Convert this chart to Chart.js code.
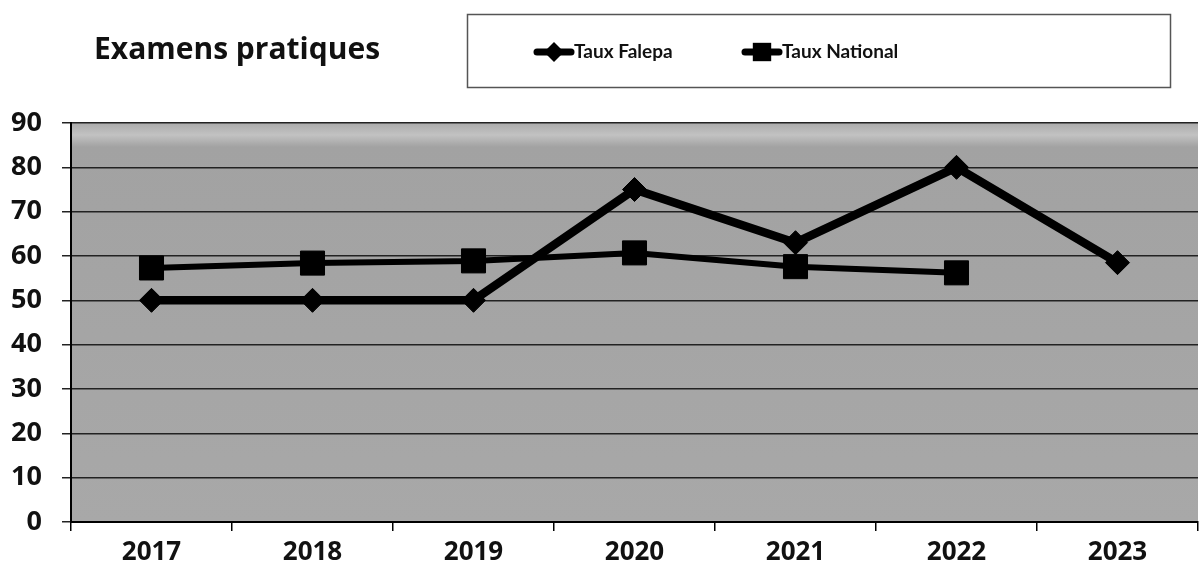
<!DOCTYPE html>
<html>
<head>
<meta charset="utf-8">
<script src="https://cdn.jsdelivr.net/npm/chart.js@4.4.1/dist/chart.umd.min.js"></script>
<style>
  html, body { margin: 0; padding: 0; background: #fff; overflow: hidden; }
  #wrap { width: 1199px; height: 574px; overflow: hidden; position: relative; }
  canvas { display: block; }
</style>
</head>
<body>
<div id="wrap"><canvas id="chart" width="1216" height="574"></canvas></div>
<script>
// Examens pratiques — taux de réussite
const years = ["2017", "2018", "2019", "2020", "2021", "2022", "2023"];
const tauxFalepa = [50, 50, 50, 75, 63, 80, 58.5];
const tauxNational = [57.3, 58.4, 58.9, 60.7, 57.6, 56.2, null];
const yTicks = [0, 10, 20, 30, 40, 50, 60, 70, 80, 90];
const chartTitle = "Examens pratiques";

const FONT = "'Open Sans', sans-serif";
const LEGEND_FONT = "Lato, 'Open Sans', sans-serif";

// grey plot background + light band near the top
const plotBg = {
  id: "plotBg",
  beforeDraw(chart) {
    const { ctx, chartArea: a } = chart;
    ctx.save();
    const g = ctx.createLinearGradient(0, a.top, 0, a.bottom);
    g.addColorStop(0, "#ababab");
    g.addColorStop(0.03, "#c2c2c2");
    g.addColorStop(0.06, "#a2a2a2");
    g.addColorStop(1, "#a8a8a8");
    ctx.fillStyle = g;
    ctx.fillRect(a.left, a.top, a.right - a.left, a.bottom - a.top);
    ctx.restore();
  },
};

// title and boxed legend drawn above the plot
const header = {
  id: "header",
  afterDraw(chart) {
    const { ctx } = chart;
    ctx.save();
    ctx.fillStyle = "#111";
    ctx.font = "bold 30px " + FONT;
    ctx.textBaseline = "middle";
    ctx.textAlign = "left";
    ctx.fillText(chartTitle, 94, 50);

    ctx.strokeStyle = "#555";
    ctx.lineWidth = 1.5;
    ctx.strokeRect(467.5, 14.5, 703, 73);

    const items = [
      { ds: chart.data.datasets[0], x: 534 },
      { ds: chart.data.datasets[1], x: 742 },
    ];
    items.forEach(({ ds, x }) => {
      const y = 52;
      ctx.strokeStyle = "#000";
      ctx.lineWidth = 7;
      ctx.lineCap = "round";
      ctx.beginPath();
      ctx.moveTo(x + 3, y);
      ctx.lineTo(x + 37, y);
      ctx.stroke();
      ctx.fillStyle = "#000";
      Chart.helpers.drawPoint(ctx, {
        pointStyle: ds.pointStyle,
        radius: ds.pointStyle === "rect" ? 13 : 10,
        rotation: 0,
        borderWidth: 0,
      }, x + 20, y);
      ctx.fillStyle = "#111";
      ctx.font = "bold 19px " + LEGEND_FONT;
      ctx.fillText(ds.label, x + 40, y);
    });
    ctx.restore();
  },
};

new Chart(document.getElementById("chart"), {
  type: "line",
  data: {
    labels: years,
    datasets: [
      {
        label: "Taux Falepa",
        data: tauxFalepa,
        borderColor: "#000",
        backgroundColor: "#000",
        borderWidth: 8.5,
        pointStyle: "rectRot",
        pointRadius: 12,
        pointBorderWidth: 1,
        tension: 0,
      },
      {
        label: "Taux National",
        data: tauxNational,
        borderColor: "#000",
        backgroundColor: "#000",
        borderWidth: 6,
        pointStyle: "rect",
        pointRadius: 17,
        pointBorderWidth: 1,
        tension: 0,
        spanGaps: false,
      },
    ],
  },
  options: {
    responsive: false,
    animation: false,
    layout: { padding: { top: 123, left: 0, right: 0, bottom: 0 } },
    plugins: { legend: { display: false }, tooltip: { enabled: false } },
    scales: {
      x: {
        offset: true,
        afterFit: (axis) => { axis.height = 52; },
        grid: {
          offset: true,
          drawOnChartArea: false,
          drawTicks: true,
          tickLength: 9,
          color: "#000",
          lineWidth: 1.5,
        },
        border: { color: "#000", width: 2 },
        ticks: {
          color: "#111",
          font: { family: FONT, size: 26, weight: "bold" },
          padding: 6,
          maxRotation: 0,
        },
      },
      y: {
        min: 0,
        max: 90,
        afterFit: (axis) => { axis.width = 71; },
        afterBuildTicks: (axis) => { axis.ticks = yTicks.map((v) => ({ value: v })); },
        grid: { color: "#222", lineWidth: 1.5, tickLength: 9 },
        border: { color: "#000", width: 2 },
        ticks: {
          color: "#111",
          font: { family: FONT, size: 27, weight: "bold" },
          padding: 20,
        },
      },
    },
  },
  plugins: [plotBg, header],
});
</script>
</body>
</html>
